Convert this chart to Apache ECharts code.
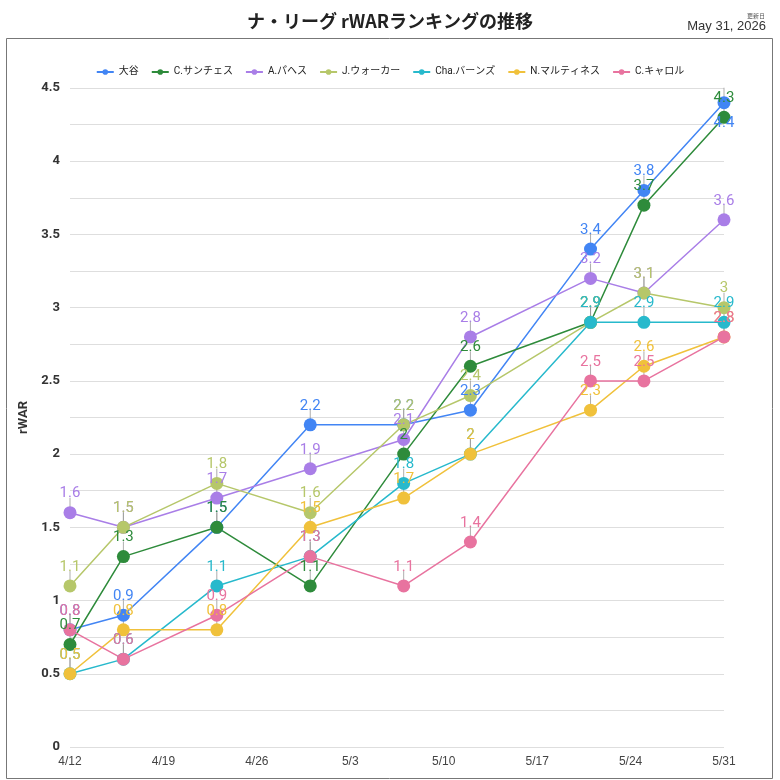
<!DOCTYPE html>
<html>
<head>
<meta charset="utf-8">
<script src="https://cdn.jsdelivr.net/npm/echarts@6/dist/echarts.min.js"></script>
<style>
  html, body { margin: 0; padding: 0; background: #fff; }
  #chart { width: 780px; height: 780px; }
</style>
</head>
<body>
<div id="chart"></div>
<script>
// データ
var dates = ['4/12', '4/16', '4/23', '4/30', '5/7', '5/12', '5/21', '5/25', '5/31'];
var names = ['大谷', 'C.サンチェス', 'A.パヘス', 'J.ウォーカー', 'Cha.バーンズ', 'N.マルティネス', 'C.キャロル'];
var ohtani   = [0.8, 0.9, 1.5, 2.2, 2.2, 2.3, 3.4, 3.8, 4.4];
var sanchez  = [0.7, 1.3, 1.5, 1.1, 2.0, 2.6, 2.9, 3.7, 4.3];
var pages    = [1.6, 1.5, 1.7, 1.9, 2.1, 2.8, 3.2, 3.1, 3.6];
var walker   = [1.1, 1.5, 1.8, 1.6, 2.2, 2.4, 2.9, 3.1, 3.0];
var burnes   = [0.5, 0.6, 1.1, 1.3, 1.8, 2.0, 2.9, 2.9, 2.9];
var martinez = [0.5, 0.8, 0.8, 1.5, 1.7, 2.0, 2.3, 2.6, 2.8];
var carroll  = [0.8, 0.6, 0.9, 1.3, 1.1, 1.4, 2.5, 2.5, 2.8];
var allValues = [ohtani, sanchez, pages, walker, burnes, martinez, carroll];
var colors = ['#4285f4', '#2e8b3b', '#a97ee7', '#b6c76a', '#27b9cc', '#f0c13b', '#e8739f'];
var xStart = '4/12';
var xEnd = '5/31';

// 日付 -> 4/12からの日数
var DAY = 86400000;
function toUtc(s) {
  var p = s.split('/');
  return Date.UTC(2026, +p[0] - 1, +p[1]);
}
var base = toUtc(xStart);
function dayOf(s) { return Math.round((toUtc(s) - base) / DAY); }
function dayLabel(v) {
  var d = new Date(base + v * DAY);
  return (d.getUTCMonth() + 1) + '/' + d.getUTCDate();
}

// 重なったラベルの位置調整 (series index -> point index -> label)
var labelTweaks = {
  0: { 8: { position: 'bottom', distance: 7 } }
};

var chart = echarts.init(document.getElementById('chart'));

var series = names.map(function (name, i) {
  return {
    name: name,
    type: 'line',
    data: allValues[i].map(function (v, j) {
      var item = { value: [dayOf(dates[j]), v] };
      if (labelTweaks[i] && labelTweaks[i][j]) item.label = labelTweaks[i][j];
      return item;
    }),
    symbol: 'circle',
    symbolSize: 13,
    lineStyle: { width: 1.5, color: colors[i] },
    itemStyle: { color: colors[i] },
    label: {
      show: true,
      position: 'top',
      distance: 5,
      color: colors[i],
      fontSize: 15,
      fontFamily: 'Roboto, Arial, sans-serif'
    },
    emphasis: { disabled: true },
    z: 3
  };
});

// ラベルの引き出し線
var tickData = [];
allValues.forEach(function (arr) {
  arr.forEach(function (v, j) { tickData.push([dayOf(dates[j]), v]); });
});
series.push({
  name: '_ticks',
  type: 'scatter',
  data: tickData,
  symbol: 'rect',
  symbolSize: [1, 10],
  symbolOffset: [0, -10],
  itemStyle: { color: '#999' },
  silent: true,
  z: 2
});

var option = {
  animation: false,
  color: colors,
  title: [{
    text: 'ナ・リーグ rWARランキングの推移',
    left: 'center',
    top: 7,
    textStyle: { fontSize: 18, fontWeight: 'bold', color: '#222', fontFamily: '"Noto Sans CJK JP", sans-serif' }
  }, {
    text: '更新日',
    right: 10,
    top: 8,
    textStyle: { fontSize: 6, fontWeight: 'normal', color: '#555', fontFamily: '"Noto Sans CJK JP", sans-serif' }
  }, {
    text: 'May 31, 2026',
    right: 9,
    top: 15,
    textStyle: { fontSize: 13, fontWeight: 'normal', color: '#333', fontFamily: '"Liberation Sans Narrow", "Liberation Sans", sans-serif' }
  }],
  graphic: [{
    type: 'rect',
    shape: { x: 6.5, y: 38.5, width: 766, height: 740 },
    style: { fill: 'none', stroke: '#777', lineWidth: 1 },
    silent: true
  }],
  legend: {
    top: 62,
    left: 'center',
    data: names,
    itemWidth: 17,
    itemHeight: 7,
    itemGap: 12,
    textStyle: { fontSize: 10, color: '#222', fontFamily: 'Roboto, "Noto Sans CJK JP", sans-serif' }
  },
  grid: { left: 70, right: 56, top: 88, bottom: 33 },
  xAxis: {
    type: 'value',
    min: dayOf(xStart),
    max: dayOf(xEnd),
    interval: 7,
    axisLine: { show: false },
    axisTick: { show: false },
    splitLine: { show: false },
    axisLabel: {
      formatter: dayLabel,
      color: '#444',
      fontSize: 12,
      margin: 9,
      fontFamily: '"Liberation Sans Narrow", "Liberation Sans", sans-serif'
    }
  },
  yAxis: {
    type: 'value',
    min: 0,
    max: 4.5,
    interval: 0.5,
    name: 'rWAR',
    nameLocation: 'middle',
    nameGap: 34,
    nameTextStyle: { fontSize: 13, fontWeight: 'bold', color: '#333', fontFamily: 'Roboto, Arial, sans-serif' },
    axisLine: { show: false },
    axisTick: { show: false },
    axisLabel: {
      color: '#333',
      fontSize: 13,
      fontWeight: 'bold',
      margin: 10,
      fontFamily: 'Roboto, Arial, sans-serif'
    },
    splitLine: { lineStyle: { color: '#dedede', width: 1 } },
    minorTick: { show: false, splitNumber: 2 },
    minorSplitLine: { show: true, lineStyle: { color: '#dedede', width: 1 } }
  },
  series: series
};

chart.setOption(option);
</script>
</body>
</html>
